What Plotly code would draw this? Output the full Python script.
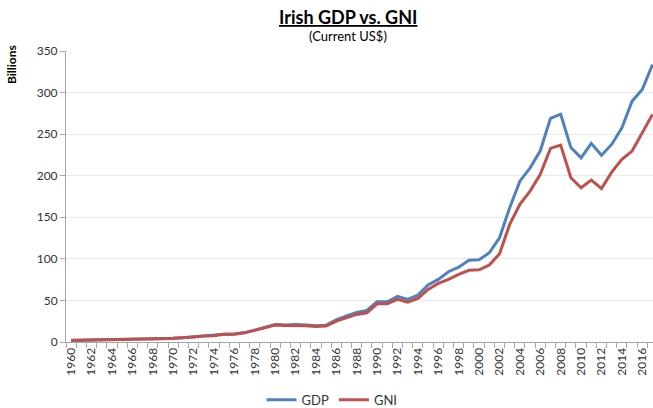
import plotly.graph_objects as go

years = list(range(1960, 2018))
gdp = [1.94, 2.09, 2.26, 2.45, 2.77, 2.95, 3.12, 3.38, 3.46, 3.95,
       4.40, 4.98, 6.17, 7.27, 7.74, 9.46, 9.54, 11.32, 14.29, 17.49,
       21.06, 20.37, 21.02, 20.38, 19.44, 20.22, 26.61, 31.37, 35.45, 37.90,
       48.4, 48.4, 54.9, 51.3, 56.5, 68.5, 75.3, 84.5, 90.0, 98.2,
       98.8, 107.3, 125.4, 161.5, 193.5, 209.5, 230.0, 269.0, 274.0, 234.0,
       221.5, 238.8, 224.7, 237.6, 257.6, 289.7, 303.7, 333.8]
gni = [1.97, 2.12, 2.29, 2.48, 2.80, 2.98, 3.15, 3.41, 3.50, 3.98,
       4.42, 4.98, 6.10, 7.15, 7.55, 9.20, 9.25, 10.95, 13.80, 16.90,
       20.30, 19.80, 20.00, 19.40, 18.60, 19.20, 25.20, 29.50, 33.20, 35.20,
       46.0, 46.0, 51.3, 48.0, 52.5, 63.3, 70.5, 75.3, 81.3, 86.2,
       86.8, 92.5, 106.0, 141.4, 165.5, 181.5, 201.6, 232.8, 236.8, 197.5,
       185.5, 194.7, 184.7, 204.3, 219.6, 229.6, 251.6, 273.7]
x_tick_years = list(range(1960, 2018, 2))
y_ticks = [0, 50, 100, 150, 200, 250, 300, 350]

FONT = "Lato"
TXT = "#333333"

L, T, B = 66, 51, 66
PW, PH = 653 - L, 408 - T - B


def px_x(px):
    return (px - L) / PW


def px_y(py):
    return (408 - B - py) / PH


fig = go.Figure()
fig.add_trace(go.Scatter(x=years, y=gdp, name="GDP", mode="lines",
                         line=dict(color="#4F81BD", width=3)))
fig.add_trace(go.Scatter(x=years, y=gni, name="GNI", mode="lines",
                         line=dict(color="#C0504D", width=3)))

fig.update_layout(
    width=653, height=408,
    margin=dict(l=L, r=0, t=T, b=B),
    paper_bgcolor="white", plot_bgcolor="white",
    font=dict(family=FONT, size=12, color=TXT),
    showlegend=True,
    hovermode=False,
    legend=dict(orientation="h", xref="paper", x=px_x(332), xanchor="center",
                yref="container", y=0.02, yanchor="middle",
                font=dict(size=13, color=TXT), bgcolor="rgba(0,0,0,0)",
                itemwidth=30, tracegroupgap=0),
    xaxis=dict(
        range=[1959.5, 2017.05], automargin=False,
        tickmode="array", tickvals=x_tick_years, ticktext=[str(v) for v in x_tick_years],
        tickangle=-90, ticks="", showgrid=False, zeroline=False,
        showline=True, linecolor="#A6A6A6", linewidth=1,
        tickfont=dict(size=12, color=TXT),
        minor=dict(tickmode="linear", tick0=1959.5, dtick=1, ticks="outside",
                   ticklen=5, tickcolor="#A6A6A6", showgrid=False),
    ),
    yaxis=dict(
        range=[0, 350], tickmode="array", tickvals=y_ticks, automargin=False,
        showgrid=True, gridcolor="#EAEAEA", gridwidth=1, zeroline=False,
        showline=True, linecolor="#A6A6A6", linewidth=1,
        ticks="outside", ticklen=5, tickcolor="#A6A6A6",
        tickfont=dict(size=12, color=TXT),
    ),
    annotations=[
        dict(text="<b><u>Irish GDP vs. GNI</u></b>", xref="paper", yref="paper",
             x=px_x(348), y=px_y(17), xanchor="center", yanchor="middle",
             showarrow=False, font=dict(size=18, color="black", family=FONT)),
        dict(text="(Current US$)", xref="paper", yref="paper",
             x=px_x(348), y=px_y(36), xanchor="center", yanchor="middle",
             showarrow=False, font=dict(size=13, color="black", family=FONT)),
        dict(text="<b>Billions</b>", xref="paper", yref="paper",
             x=px_x(11), y=px_y(65), xanchor="center", yanchor="middle",
             textangle=-90, showarrow=False, font=dict(size=12, color="black", family=FONT)),
    ],
)

fig.write_html("out.html", config={"displayModeBar": False},
               post_script="document.body.style.margin='0px';")
